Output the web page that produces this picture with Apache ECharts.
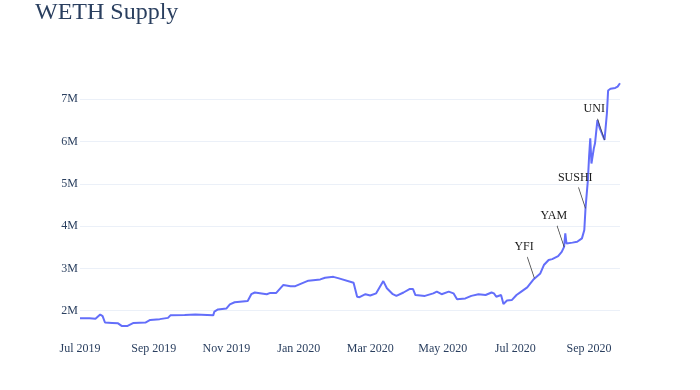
<!DOCTYPE html>
<html><head><meta charset="utf-8">
<script src="https://cdn.jsdelivr.net/npm/echarts@6/dist/echarts.min.js"></script>
<style>html,body{margin:0;padding:0;background:#fff}#c{width:700px;height:390px}</style>
</head><body><div id="c"></div>
<script>
// ---- data (values in millions of WETH) ----
const dates = [
'2019-07-01','2019-07-09','2019-07-14','2019-07-18','2019-07-20','2019-07-22','2019-07-28','2019-08-02','2019-08-05','2019-08-10',
'2019-08-15','2019-08-25','2019-08-29','2019-09-06','2019-09-13','2019-09-15','2019-09-27','2019-10-06','2019-10-21','2019-10-22',
'2019-10-25','2019-11-01','2019-11-04','2019-11-08','2019-11-19','2019-11-22','2019-11-25','2019-12-05','2019-12-08','2019-12-13',
'2019-12-19','2019-12-25','2019-12-29','2020-01-09','2020-01-19','2020-01-23','2020-01-30','2020-02-03','2020-02-16','2020-02-19',
'2020-02-21','2020-02-26','2020-03-01','2020-03-06','2020-03-12','2020-03-15','2020-03-20','2020-03-23','2020-03-29','2020-04-03',
'2020-04-06','2020-04-08','2020-04-16','2020-04-23','2020-04-26','2020-04-30','2020-05-06','2020-05-10','2020-05-13','2020-05-20',
'2020-05-25','2020-05-31','2020-06-06','2020-06-11','2020-06-13','2020-06-15','2020-06-19','2020-06-21','2020-06-24','2020-06-28',
'2020-07-02','2020-07-06','2020-07-11','2020-07-16','2020-07-17','2020-07-22','2020-07-25','2020-07-29','2020-08-01','2020-08-06',
'2020-08-09','2020-08-11','2020-08-12','2020-08-13','2020-08-18','2020-08-22','2020-08-26','2020-08-28','2020-08-29','2020-08-31',
'2020-09-01','2020-09-02','2020-09-03','2020-09-05','2020-09-06','2020-09-08','2020-09-10','2020-09-14','2020-09-16','2020-09-17',
'2020-09-19','2020-09-20','2020-09-23','2020-09-25','2020-09-27'
];
const supplyM = [
1.82,1.82,1.81,1.91,1.87,1.72,1.71,1.70,1.64,1.64,
1.71,1.72,1.78,1.80,1.83,1.89,1.90,1.91,1.89,1.98,
2.03,2.05,2.15,2.20,2.23,2.39,2.43,2.39,2.42,2.42,
2.61,2.58,2.58,2.71,2.74,2.78,2.80,2.77,2.66,2.33,
2.32,2.39,2.36,2.41,2.70,2.53,2.39,2.35,2.43,2.51,
2.51,2.37,2.35,2.41,2.45,2.39,2.45,2.41,2.27,2.29,
2.35,2.39,2.37,2.43,2.41,2.33,2.37,2.16,2.24,2.25,
2.37,2.45,2.55,2.73,2.77,2.88,3.08,3.20,3.22,3.29,
3.39,3.51,3.83,3.59,3.61,3.63,3.71,3.91,4.42,5.09,
5.64,6.08,5.48,5.84,5.96,6.51,6.31,6.04,6.67,7.21,
7.25,7.21,7.27,7.30,7.38
];
const xTickDates = ['2019-07-01','2019-09-01','2019-11-01','2020-01-01','2020-03-01','2020-05-01','2020-07-01','2020-09-01'];
const xTickLabels = ['Jul 2019','Sep 2019','Nov 2019','Jan 2020','Mar 2020','May 2020','Jul 2020','Sep 2020'];
const yTicks = [2e6,3e6,4e6,5e6,6e6,7e6];
const yTickLabels = ['2M','3M','4M','5M','6M','7M'];
const annoNames = ['YFI','YAM','SUSHI','UNI'];
const annoDates = ['2020-07-17','2020-08-11','2020-08-29','2020-09-14'];

// ---- build ----
function ts(s){const p=s.split('-').map(Number);return Date.UTC(p[0],p[1]-1,p[2]);}
const seriesData = dates.map((d,i)=>[ts(d), supplyM[i]*1e6]);
const xTickTs = xTickDates.map(ts);
const FONT = 'Liberation Serif';
const AX = '#2a3f5f';

const chart = echarts.init(document.getElementById('c'), null, {renderer:'canvas'});
chart.setOption({
  animation:false,
  backgroundColor:'#fff',
  title:{text:'WETH Supply', left:35, top:1, padding:0,
    textStyle:{fontFamily:FONT, fontSize:24, fontWeight:'normal', color:AX}},
  grid:{left:80, right:80, top:71, bottom:51, containLabel:false},
  xAxis:{type:'value', min:ts(dates[0]), max:ts(dates[dates.length-1]),
    axisLine:{show:false}, axisTick:{show:false, customValues:xTickTs}, splitLine:{show:false},
    axisLabel:{customValues:xTickTs, margin:4, fontFamily:FONT, fontSize:12, color:AX,
      formatter:v=>{const i=xTickTs.indexOf(v);return i>=0?xTickLabels[i]:'';}}},
  yAxis:{type:'value', min:1.33e6, max:7.67e6,
    axisLine:{show:false}, axisTick:{show:false, customValues:yTicks},
    splitLine:{show:true, lineStyle:{color:'#ebf0f8', width:1}},
    axisLabel:{customValues:yTicks, margin:2, fontFamily:FONT, fontSize:12, color:AX,
      formatter:v=>{const i=yTicks.indexOf(v);return i>=0?yTickLabels[i]:'';}}},
  series:[{
    type:'line', data:seriesData, showSymbol:false, symbol:'none',
    lineStyle:{color:'#636efa', width:2}, itemStyle:{color:'#636efa'},
    markPoint:{
      silent:true,
      symbol:'path://M0,0L7,21', symbolSize:[7,21], symbolOffset:[-3.5,-10.5], symbolKeepAspect:false,
      itemStyle:{color:'rgba(0,0,0,0)', borderColor:'#444', borderWidth:1},
      label:{show:true, position:[-3,-9], align:'center', verticalAlign:'middle',
        formatter:p=>p.name, color:'#1a1a1a', fontFamily:FONT, fontSize:12},
      data: annoNames.map((n,i)=>{const k=dates.indexOf(annoDates[i]);return {name:n, coord:[ts(annoDates[i]), supplyM[k]*1e6]};})
    }
  }]
});
</script></body></html>
